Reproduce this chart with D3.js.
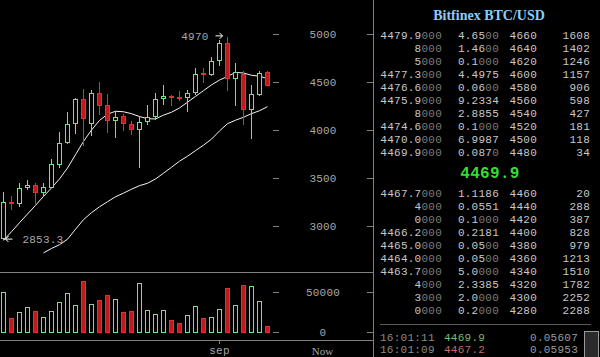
<!DOCTYPE html>
<html><head><meta charset="utf-8">
<script src="https://cdn.jsdelivr.net/npm/d3@7"></script>
<style>
html,body{margin:0;padding:0;background:#000;overflow:hidden;}
svg{display:block;}
</style></head><body>
<svg id="c" width="600" height="357"></svg>
<script>
// ---------- chart data ----------
const dates = ["2017-08-05","2017-08-06","2017-08-07","2017-08-08","2017-08-09","2017-08-10","2017-08-11","2017-08-12","2017-08-13","2017-08-14","2017-08-15","2017-08-16","2017-08-17","2017-08-18","2017-08-19","2017-08-20","2017-08-21","2017-08-22","2017-08-23","2017-08-24","2017-08-25","2017-08-26","2017-08-27","2017-08-28","2017-08-29","2017-08-30","2017-08-31","2017-09-01","2017-09-02","2017-09-03","2017-09-04","2017-09-05","2017-09-06","2017-09-07"];
const open  = [2870,3255,3240,3405,3423,3350,3410,3650,3870,4070,4323,4075,4385,4265,4100,4142,4062,4010,4095,4142,4333,4357,4345,4340,4392,4594,4583,4725,4906,4542,4586,4219,4378,4600];
const high  = [3350,3315,3450,3480,3448,3450,3700,3975,4190,4335,4427,4413,4495,4370,4195,4167,4097,4135,4265,4385,4472,4368,4410,4420,4646,4646,4756,4941,4970,4698,4610,4472,4610,4610];
const low   = [2853.3,3165,3200,3370,3232,3315,3395,3605,3850,3960,3836,3940,4160,3970,3917,3985,3951,3604,4048,4107,4256,4246,4298,4183,4368,4490,4558,4663,4402,4253,4055,3906,4357,4465];
const close = [3250,3240,3395,3425,3350,3405,3650,3865,4060,4325,4125,4390,4265,4100,4140,4073,4010,4085,4135,4323,4357,4345,4333,4385,4583,4583,4715,4906,4542,4600,4219,4378,4594,4469.9];
const volume = [50000,17500,25000,31250,26250,18750,26250,37500,48750,33750,63750,35000,40000,46250,41250,25000,26250,61250,27500,22500,27500,15000,11250,21250,32500,17500,18750,28750,55000,33750,58750,57500,38750,7500];
const maShort = [2850,2941,3034,3125,3215,3308,3396,3490,3604,3743,3881,4000,4100,4165,4195,4190,4170,4140,4118,4115,4155,4185,4230,4290,4350,4410,4470,4520,4558,4600,4594,4570,4560,4535];
const maLong  = [null,null,null,null,null,2720,2766,2805,2862,2966,3066,3139,3200,3253,3305,3342,3383,3420,3445,3490,3550,3612,3675,3727,3785,3842,3905,3990,4066,4102,4133,4170,4201,4243];
const priceTicks = [3000,3500,4000,4500,5000];
const volumeTicks = [0,50000];
const dateTicks = ["2017-09-01"];
const rightLabel = "Now";

// ---------- order book data ----------
const title = "Bitfinex BTC/USD";
const askPrice  = ["4479.9000","8000","5000","4477.3000","4476.6000","4475.9000","8000","4474.6000","4470.0000","4469.9000"];
const askAmount = ["4.6500","1.4600","0.1000","4.4975","0.0600","9.2334","2.8855","0.1000","6.9987","0.0870"];
const askLevel  = ["4660","4640","4620","4600","4580","4560","4540","4520","4500","4480"];
const askTotal  = ["1608","1402","1246","1157","906","598","427","181","118","34"];
const lastPrice = "4469.9";
const bidPrice  = ["4467.7000","4000","0000","4466.2000","4465.0000","4464.0000","4463.7000","4000","3000","0000"];
const bidAmount = ["1.1186","0.0551","0.1000","0.2181","0.0500","0.0500","5.0000","2.3385","2.0000","0.2000"];
const bidLevel  = ["4460","4440","4420","4400","4380","4360","4340","4320","4300","4280"];
const bidTotal  = ["20","288","387","828","979","1213","1510","1782","2252","2288"];
const tradeTime   = ["16:01:11","16:01:09"];
const tradePrice  = ["4469.9","4467.2"];
const tradeAmount = ["0.05607","0.05953"];
const tradeSide   = ["buy","sell"];

// ---------- drawing ----------
const MONO = "'Liberation Mono','DejaVu Sans Mono',monospace";
const SERIF = "'Liberation Serif','DejaVu Serif',serif";
const GREEN = "#7fe07f", RED_FILL = "#c21a1a", RED_LINE = "#e23030";
const AXIS = "#808080", LABEL = "#a8a8a8";

const svg = d3.select("#c");
svg.append("rect").attr("width",600).attr("height",357).attr("fill","#000");

const parse = d3.timeParse("%Y-%m-%d");
const days = dates.map(parse);
const x = d3.scaleTime().domain([days[0], days[days.length-1]]).range([3, 267]);
const y = d3.scaleLinear().domain([3000, 5000]).range([226, 34]);
const yv = d3.scaleLinear().domain([0, 50000]).range([332, 292]);
const cx = i => Math.round(x(days[i])) + 0.5;
const idx = d3.range(dates.length);
const up = i => close[i] >= open[i];

// frame lines
const frame = svg.append("g").attr("stroke", AXIS).attr("shape-rendering","crispEdges");
frame.append("line").attr("x1",0).attr("x2",373).attr("y1",272.5).attr("y2",272.5);
frame.append("line").attr("x1",0).attr("x2",373).attr("y1",340.5).attr("y2",340.5);
frame.append("line").attr("x1",373.5).attr("x2",373.5).attr("y1",0).attr("y2",357);

// axes
function styleAxis(g, labels) {
  g.select(".domain").remove();
  g.selectAll(".tick line").attr("stroke", AXIS).attr("shape-rendering","crispEdges");
  g.selectAll(".tick text").attr("fill", LABEL).attr("font-family", MONO).attr("font-size", 11)
    .attr("letter-spacing", 0.2);
  if (!labels) g.selectAll(".tick text").remove();
}
function yAxes(scale, ticks) {
  svg.append("g").attr("transform","translate(273,0)")
    .call(d3.axisRight(scale).tickValues(ticks).tickSize(6).tickFormat(d3.format("d")))
    .call(g => styleAxis(g, true))
    .call(g => g.selectAll(".tick text").attr("x", 50).attr("text-anchor","middle").attr("dy","0.35em"));
  svg.append("g").attr("transform","translate(373,0)")
    .call(d3.axisLeft(scale).tickValues(ticks).tickSize(6))
    .call(g => styleAxis(g, false));
}
yAxes(y, priceTicks);
yAxes(yv, volumeTicks);

svg.append("g").attr("transform","translate(0,340)")
  .call(d3.axisBottom(x).tickValues(dateTicks.map(parse)).tickSize(4)
    .tickFormat(d => d3.timeFormat("%b")(d).toLowerCase()))
  .call(g => styleAxis(g, true))
  .call(g => g.selectAll(".tick text").attr("y", 6));
svg.append("text").attr("x", 322.5).attr("y", 355).attr("text-anchor","middle")
  .attr("font-family", SERIF).attr("font-size", 11).attr("fill", LABEL).text(rightLabel);

// volume bars
svg.append("g").attr("shape-rendering","crispEdges").selectAll("rect").data(idx).join("rect")
  .attr("x", i => cx(i) - 2).attr("width", 4)
  .attr("y", i => Math.round(yv(volume[i])) + 0.5)
  .attr("height", i => yv(0) - Math.round(yv(volume[i])))
  .attr("fill", i => up(i) ? "#000" : RED_FILL)
  .attr("stroke", i => up(i) ? GREEN : RED_LINE);

// moving averages
const line = d3.line().defined(d => d[1] != null).x(d => cx(d[0])).y(d => y(d[1]));
svg.append("path").attr("d", line(idx.map(i => [i, maLong[i]])))
  .attr("fill","none").attr("stroke","#f4f4f4").attr("stroke-width",1);
svg.append("path").attr("d", line(idx.map(i => [i, maShort[i]])))
  .attr("fill","none").attr("stroke","#f4f4f4").attr("stroke-width",1);

// candles
const cg = svg.append("g").attr("shape-rendering","crispEdges");
cg.selectAll("line").data(idx).join("line")
  .attr("x1", cx).attr("x2", cx)
  .attr("y1", i => Math.round(y(high[i]))).attr("y2", i => Math.round(y(low[i])))
  .attr("stroke", i => up(i) ? GREEN : RED_LINE);
cg.selectAll("rect").data(idx).join("rect")
  .attr("x", i => cx(i) - 2).attr("width", 4)
  .attr("y", i => Math.round(y(Math.max(open[i], close[i]))) + 0.5)
  .attr("height", i => Math.max(1, Math.round(y(Math.min(open[i], close[i]))) - Math.round(y(Math.max(open[i], close[i])))))
  .attr("fill", i => up(i) ? "#000" : RED_FILL)
  .attr("stroke", i => up(i) ? GREEN : RED_LINE);

// high / low annotations
const hiIdx = d3.maxIndex(high), loIdx = d3.minIndex(low);
const hx = cx(hiIdx) - 5, hy = y(high[hiIdx]) - 1;
svg.append("path").attr("d", `M${hx-7},${hy}H${hx}M${hx-3},${hy-3}L${hx},${hy}L${hx-3},${hy+3}`)
  .attr("stroke","#fff").attr("fill","none");
svg.append("text").attr("x", hx - 14).attr("y", hy + 4).attr("text-anchor","end")
  .attr("font-family", MONO).attr("font-size", 11).attr("letter-spacing", 0.2).attr("fill", LABEL)
  .text(d3.format("d")(high[hiIdx]));
const lx = cx(loIdx) + 2, ly = y(low[loIdx]) - 1;
svg.append("path").attr("d", `M${lx+7},${ly}H${lx}M${lx+3},${ly-3}L${lx},${ly}L${lx+3},${ly+3}`)
  .attr("stroke","#fff").attr("fill","none");
svg.append("text").attr("x", lx + 17).attr("y", ly + 4)
  .attr("font-family", MONO).attr("font-size", 11).attr("letter-spacing", 0.2).attr("fill", LABEL)
  .text(d3.format(".1f")(low[loIdx]));

// ---------- right panel ----------
const BRIGHT = "#c8c8c8", DIM = "#7c7c7c";
svg.append("text").attr("x", 489).attr("y", 19.5).attr("text-anchor","middle")
  .attr("font-family", SERIF).attr("font-weight","bold").attr("font-size", 14)
  .attr("fill", "#87cefa").text(title);

function splitDim(s, isPrice) {
  if (isPrice) return [s.slice(0, -3), s.slice(-3)];
  let b = s.replace(/0+$/, "");
  if (b.endsWith(".")) b += "0";
  return [b, s.slice(b.length)];
}
function bookRows(prices, amounts, levels, totals, y0) {
  const rows = svg.append("g").attr("font-family", MONO).attr("font-size", 11).attr("letter-spacing", 0.25);
  prices.forEach((p, k) => {
    const yy = y0 + k * 13;
    [[p, 442, true], [amounts[k], 499, false]].forEach(([s, xx, isP]) => {
      const [a, b] = splitDim(s, isP);
      const t = rows.append("text").attr("x", xx).attr("y", yy).attr("text-anchor","end");
      t.append("tspan").attr("fill", BRIGHT).text(a);
      t.append("tspan").attr("fill", DIM).text(b);
    });
    rows.append("text").attr("x", 537).attr("y", yy).attr("text-anchor","end").attr("fill", BRIGHT).text(levels[k]);
    rows.append("text").attr("x", 590).attr("y", yy).attr("text-anchor","end").attr("fill", BRIGHT).text(totals[k]);
  });
}
bookRows(askPrice, askAmount, askLevel, askTotal, 39);
svg.append("text").attr("x", 490).attr("y", 178).attr("text-anchor","middle")
  .attr("font-family", MONO).attr("font-weight","bold").attr("font-size", 16).attr("letter-spacing", 0.3)
  .attr("fill", "#33dd33").text(lastPrice);
bookRows(bidPrice, bidAmount, bidLevel, bidTotal, 197);

svg.append("line").attr("x1", 380).attr("x2", 591).attr("y1", 324.5).attr("y2", 324.5)
  .attr("stroke", "#5a5a5a").attr("shape-rendering","crispEdges");
const tr = svg.append("g").attr("font-family", MONO).attr("font-size", 11).attr("letter-spacing", 0.25);
tradeTime.forEach((t, k) => {
  const yy = 340.5 + k * 12.5;
  tr.append("text").attr("x", 380).attr("y", yy).attr("fill", "#8a8a8a").text(t);
  tr.append("text").attr("x", 444).attr("y", yy).attr("fill", tradeSide[k] === "buy" ? "#6fbf6f" : "#c86a6a").text(tradePrice[k]);
  tr.append("text").attr("x", 578).attr("y", yy).attr("text-anchor","end").attr("fill", "#9a9a9a").text(tradeAmount[k]);
});
svg.append("rect").attr("x", 584.5).attr("y", 331.5).attr("width", 14).attr("height", 30)
  .attr("fill", "#2b2b2b").attr("stroke", "#9a9a9a").attr("shape-rendering","crispEdges");
</script>
</body></html>
